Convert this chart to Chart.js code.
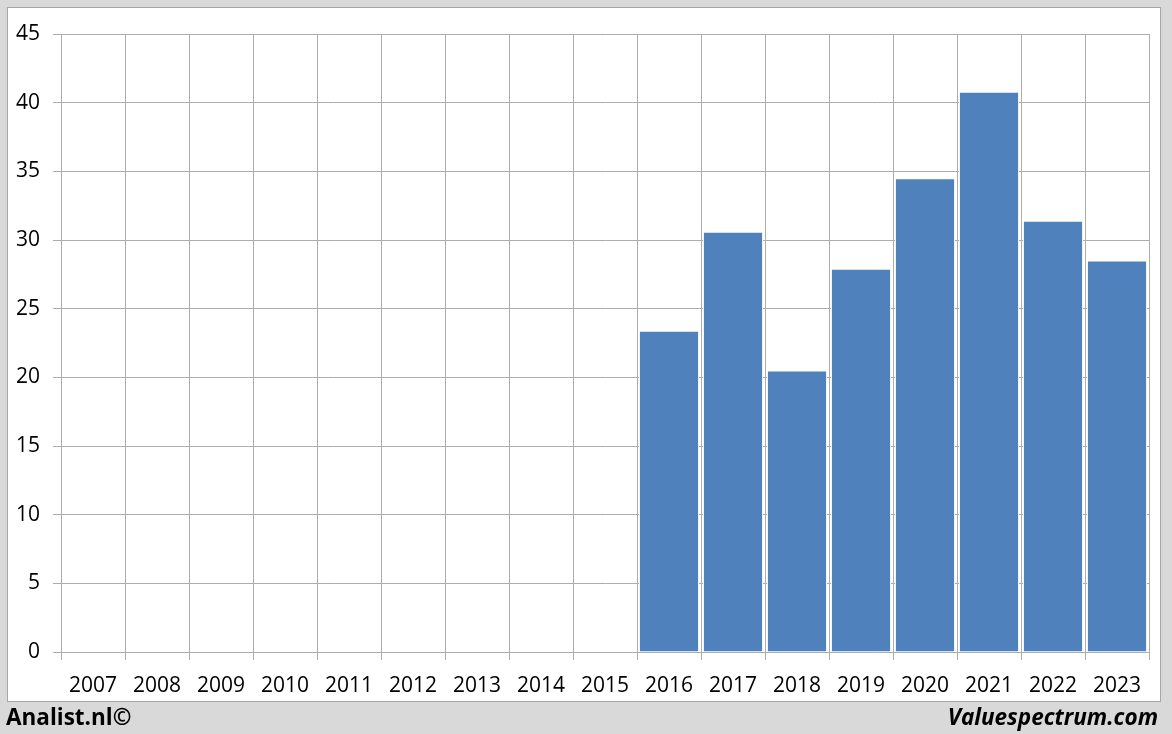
<!DOCTYPE html>
<html>
<head>
<meta charset="utf-8">
<script src="https://cdn.jsdelivr.net/npm/chart.js@4.4.1/dist/chart.umd.min.js"></script>
<style>
  html, body { margin: 0; padding: 0; }
  body { width: 1172px; height: 734px; background: #d9d9d9; position: relative; overflow: hidden; font-family: "Open Sans", sans-serif; }
  #box { position: absolute; left: 7px; top: 7px; width: 1152px; height: 693px; background: #fff; border: 1px solid #a6a6a6; }
  #wrap { position: absolute; left: 0; top: 0; width: 1172px; height: 734px; }
  .foot { position: absolute; top: 701px; font-size: 22.5px; font-weight: bold; color: #000; }
  #left { left: 6px; }
  #right { right: 14px; font-style: italic; }
</style>
</head>
<body>
<div id="box"></div>
<div id="wrap"><canvas id="chart" width="1172" height="734"></canvas></div>
<div class="foot" id="left">Analist.nl©</div>
<div class="foot" id="right">Valuespectrum.com</div>
<script>
/*data*/
const years = ['2007', '2008', '2009', '2010', '2011', '2012', '2013', '2014', '2015',
  '2016', '2017', '2018', '2019', '2020', '2021', '2022', '2023'];
const values = [null, null, null, null, null, null, null, null, null,
  23.4, 30.6, 20.5, 27.9, 34.5, 40.8, 31.4, 28.5];
const yTicks = [0, 5, 10, 15, 20, 25, 30, 35, 40, 45];

const gridColor = '#adadad';
const tickFont = { family: 'Open Sans', size: 21 };

window.onload = function () {
  const ctx = document.getElementById('chart').getContext('2d');

  new Chart(ctx, {
    type: 'bar',
    data: {
      labels: years,
      datasets: [{
        data: values,
        backgroundColor: '#4f81bd',
        borderColor: '#ffffff',
        borderWidth: 1,
        barPercentage: 0.94,
        categoryPercentage: 1
      }]
    },
    options: {
      responsive: false,
      animation: false,
      layout: { padding: { top: 34, right: 23, left: 0, bottom: 0 } },
      plugins: {
        legend: { display: false },
        tooltip: { enabled: false }
      },
      scales: {
        x: {
          offset: true,
          grid: { offset: true, color: gridColor, tickLength: 8, drawTicks: true },
          border: { color: gridColor },
          ticks: { color: '#000', font: tickFont, padding: 13, maxRotation: 0, autoSkip: false },
          afterFit: function (s) { s.height = 82; }
        },
        y: {
          min: 0,
          max: 45,
          afterBuildTicks: function (s) { s.ticks = yTicks.map(v => ({ value: v })); },
          grid: { color: gridColor, tickLength: 8 },
          border: { color: gridColor },
          ticks: { color: '#000', font: tickFont, padding: 13 },
          afterFit: function (s) { s.width = 61; }
        }
      }
    }
  });
};
</script>
</body>
</html>
